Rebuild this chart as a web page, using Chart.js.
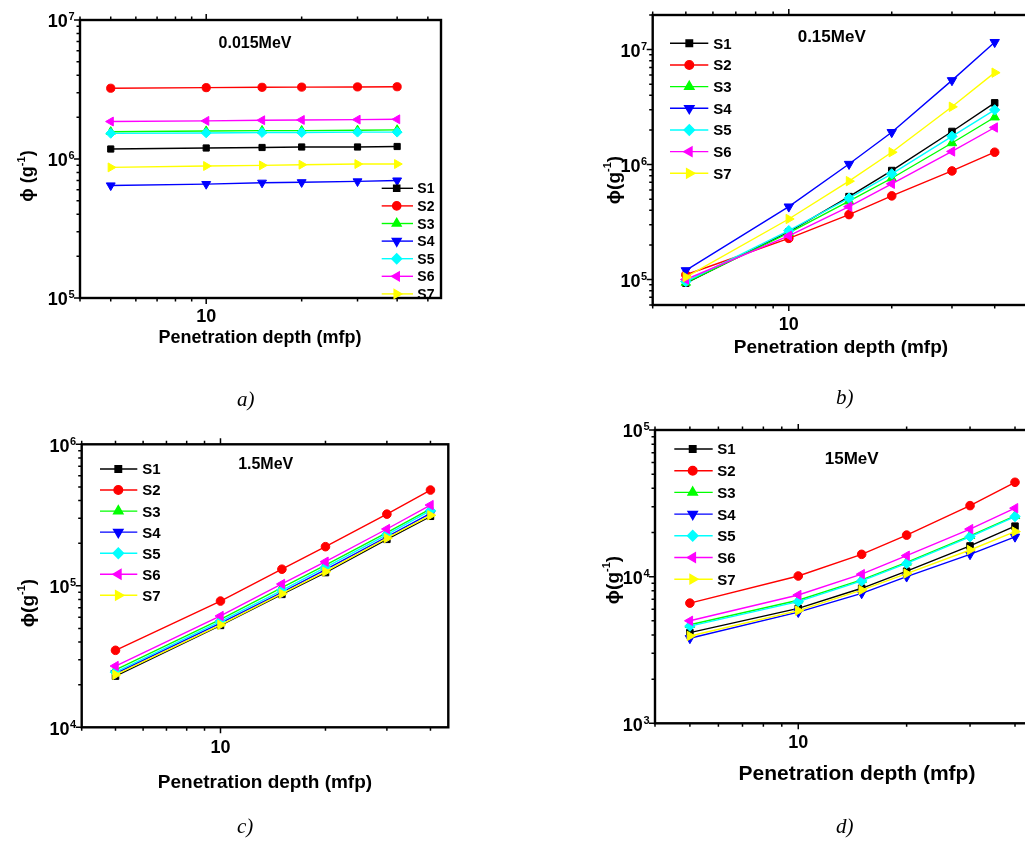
<!DOCTYPE html>
<html>
<head>
<meta charset="utf-8">
<script src="https://cdn.jsdelivr.net/npm/chart.js@4.4.0/dist/chart.umd.min.js"></script>
<style>
  html, body { margin: 0; padding: 0; overflow: hidden; background: #fff; width: 1025px; height: 843px; }
  canvas { position: absolute; }
  .cap { position: absolute; font: italic 21px "Liberation Serif", serif; line-height: 21px; }
</style>
</head>
<body>
<canvas id="pa" width="500" height="400" style="left:0;top:0"></canvas>
<canvas id="pb" width="560" height="400" style="left:510px;top:0"></canvas>
<canvas id="pc" width="500" height="423" style="left:0;top:420px"></canvas>
<canvas id="pd" width="580" height="433" style="left:510px;top:410px"></canvas>
<div class="cap" style="left:237px;top:389px">a)</div>
<div class="cap" style="left:836px;top:387px">b)</div>
<div class="cap" style="left:237px;top:816px">c)</div>
<div class="cap" style="left:836px;top:816px">d)</div>
<script>
// penetration depth (mfp)
var depth = [5, 10, 15, 20, 30, 40];
var names = ['S1', 'S2', 'S3', 'S4', 'S5', 'S6', 'S7'];

// flux, one row per sample S1..S7
var flux0015 = [
  [1.18e6, 1.20e6, 1.21e6, 1.22e6, 1.22e6, 1.23e6],
  [3.23e6, 3.26e6, 3.28e6, 3.29e6, 3.30e6, 3.31e6],
  [1.57e6, 1.59e6, 1.60e6, 1.60e6, 1.61e6, 1.62e6],
  [6.45e5, 6.60e5, 6.75e5, 6.80e5, 6.90e5, 7.00e5],
  [1.53e6, 1.54e6, 1.55e6, 1.55e6, 1.56e6, 1.56e6],
  [1.86e6, 1.88e6, 1.90e6, 1.91e6, 1.92e6, 1.93e6],
  [8.70e5, 8.90e5, 9.00e5, 9.10e5, 9.20e5, 9.20e5]
];
var flux015 = [
  [9.3e4, 2.60e5, 5.26e5, 8.87e5, 1.94e6, 3.44e6],
  [1.1e5, 2.28e5, 3.67e5, 5.34e5, 8.80e5, 1.28e6],
  [9.4e4, 2.55e5, 4.80e5, 7.60e5, 1.54e6, 2.58e6],
  [1.2e5, 4.30e5, 1.01e6, 1.91e6, 5.40e6, 1.16e7],
  [9.6e4, 2.66e5, 5.10e5, 8.30e5, 1.76e6, 2.99e6],
  [1.0e5, 2.40e5, 4.30e5, 6.80e5, 1.30e6, 2.10e6],
  [1.05e5, 3.36e5, 7.17e5, 1.28e6, 3.18e6, 6.30e6]
];
var flux15 = [
  [2.30e4, 5.25e4, 8.70e4, 1.24e5, 2.13e5, 3.10e5],
  [3.50e4, 7.80e4, 1.31e5, 1.89e5, 3.21e5, 4.75e5],
  [2.55e4, 5.80e4, 9.70e4, 1.40e5, 2.38e5, 3.50e5],
  [2.40e4, 5.45e4, 9.00e4, 1.30e5, 2.22e5, 3.25e5],
  [2.45e4, 5.60e4, 9.30e4, 1.35e5, 2.30e5, 3.40e5],
  [2.71e4, 6.12e4, 1.03e5, 1.48e5, 2.52e5, 3.72e5],
  [2.35e4, 5.30e4, 8.80e4, 1.26e5, 2.17e5, 3.15e5]
];
var flux150 = [
  [4.15e3, 6.08e3, 8.33e3, 1.09e4, 1.62e4, 2.21e4],
  [6.60e3, 1.01e4, 1.42e4, 1.92e4, 3.05e4, 4.40e4],
  [4.70e3, 6.90e3, 9.50e3, 1.25e4, 1.90e4, 2.60e4],
  [3.80e3, 5.73e3, 7.70e3, 1.00e4, 1.42e4, 1.87e4],
  [4.60e3, 6.76e3, 9.35e3, 1.23e4, 1.87e4, 2.57e4],
  [5.00e3, 7.50e3, 1.04e4, 1.39e4, 2.11e4, 2.93e4],
  [3.94e3, 5.87e3, 8.10e3, 1.05e4, 1.52e4, 2.03e4]
];

var colors = ['#000000', '#ff0000', '#00ff00', '#0000ff', '#00ffff', '#ff00ff', '#ffff00'];
var marks = ['rect', 'circle', 'triangle', 'triangle', 'rectRot', 'triangle', 'triangle'];
var turns = [0, 0, 0, 180, 0, -90, 90];
var sizes = [4.6, 4.3, 5.4, 5.4, 5.2, 5.4, 5.4];
var FONT = '"Liberation Sans", Arial, sans-serif';

function logTicks(min, max) {
  var out = [];
  for (var e = Math.floor(Math.log10(min)); e <= Math.ceil(Math.log10(max)); e++) {
    for (var m = 1; m < 10; m++) {
      var v = m * Math.pow(10, e);
      if (v >= min * 0.999 && v <= max * 1.001) out.push({ v: v, major: m === 1, e: e });
    }
  }
  return out;
}

function pow10(ctx, e, x, y, size, align) {
  ctx.font = 'bold ' + size + 'px ' + FONT;
  var w1 = ctx.measureText('10').width;
  var es = Math.round(size * 0.62);
  ctx.font = 'bold ' + es + 'px ' + FONT;
  var w2 = ctx.measureText(String(e)).width;
  var left = align === 'right' ? x - w1 - w2 : x - (w1 + w2) / 2;
  var base = y + 0.36 * size + 1;
  ctx.font = 'bold ' + size + 'px ' + FONT;
  ctx.fillText('10', left, base);
  ctx.font = 'bold ' + es + 'px ' + FONT;
  ctx.fillText(String(e), left + w1 + 0.5, base - 0.4 * size);
}

var decor = {
  id: 'decor',
  afterDatasetsDraw: function(chart, args, o) {
    var ctx = chart.ctx, a = chart.chartArea;
    var xs = chart.scales.x, ys = chart.scales.y;
    ctx.save();
    ctx.strokeStyle = '#000';
    ctx.fillStyle = '#000';
    ctx.textAlign = 'left';
    ctx.textBaseline = 'alphabetic';

    // tick marks: bottom and top on x, left on y
    ctx.lineWidth = 1.5;
    ctx.beginPath();
    logTicks(xs.min, xs.max).forEach(function(t) {
      var px = xs.getPixelForValue(t.v), L = t.major ? 6 : 3.5;
      ctx.moveTo(px, a.bottom); ctx.lineTo(px, a.bottom + L);
      ctx.moveTo(px, a.top); ctx.lineTo(px, a.top - L);
    });
    logTicks(ys.min, ys.max).forEach(function(t) {
      var py = ys.getPixelForValue(t.v), L = t.major ? 6 : 3.5;
      ctx.moveTo(a.left, py); ctx.lineTo(a.left - L, py);
    });
    ctx.stroke();

    // frame
    ctx.lineWidth = 2.4;
    ctx.strokeRect(a.left, a.top, a.right - a.left, a.bottom - a.top);

    // y tick labels
    logTicks(ys.min, ys.max).forEach(function(t) {
      if (t.major) pow10(ctx, t.e, a.left - 6, ys.getPixelForValue(t.v), o.tickSize, 'right');
    });
    // x tick label
    ctx.font = 'bold ' + o.tickSize + 'px ' + FONT;
    ctx.textAlign = 'center';
    ctx.fillText('10', xs.getPixelForValue(10), a.bottom + o.xTickDy);

    // x title
    ctx.font = 'bold ' + o.xTitle.size + 'px ' + FONT;
    ctx.fillText('Penetration depth (mfp)', o.xTitle.x, o.xTitle.y);

    // panel title
    ctx.font = 'bold ' + o.title.size + 'px ' + FONT;
    ctx.fillText(o.title.text, o.title.x, o.title.y + 0.36 * o.title.size);

    // y title, rotated
    ctx.save();
    ctx.translate(o.yTitle.x, o.yTitle.y);
    ctx.rotate(-Math.PI / 2);
    ctx.textAlign = 'left';
    var s = o.yTitle.size, ss = Math.round(s * 0.6);
    ctx.font = 'bold ' + s + 'px ' + FONT;
    var w1 = ctx.measureText(o.yTitle.text).width, w3 = ctx.measureText(')').width;
    ctx.font = 'bold ' + ss + 'px ' + FONT;
    var w2 = ctx.measureText('-1').width;
    var x0 = -(w1 + w2 + w3) / 2, b = 0.36 * s;
    ctx.font = 'bold ' + s + 'px ' + FONT;
    ctx.fillText(o.yTitle.text, x0, b);
    ctx.fillText(')', x0 + w1 + w2, b);
    ctx.font = 'bold ' + ss + 'px ' + FONT;
    ctx.fillText('-1', x0 + w1, b - 0.45 * s);
    ctx.restore();

    // legend
    var lg = o.leg;
    chart.data.datasets.forEach(function(ds, i) {
      var y = lg.y0 + i * lg.dy;
      ctx.strokeStyle = ds.borderColor;
      ctx.fillStyle = ds.borderColor;
      ctx.lineWidth = 1.4;
      ctx.beginPath(); ctx.moveTo(lg.x0, y); ctx.lineTo(lg.x1, y); ctx.stroke();
      Chart.helpers.drawPoint(ctx, { pointStyle: ds.pointStyle, rotation: ds.pointRotation, radius: ds.pointRadius, borderWidth: 1 }, lg.mx, y);
      ctx.fillStyle = '#000';
      ctx.textAlign = 'left';
      ctx.font = 'bold ' + lg.size + 'px ' + FONT;
      ctx.fillText(ds.label, lg.tx, y + 0.36 * lg.size);
    });
    ctx.restore();
  }
};

function panel(id, rows, P) {
  var datasets = rows.map(function(r, i) {
    return {
      label: names[i],
      data: r.map(function(v, j) { return { x: depth[j], y: v }; }),
      borderColor: colors[i],
      backgroundColor: colors[i],
      pointStyle: marks[i],
      pointRotation: turns[i],
      pointRadius: sizes[i] * P.k,
      pointBorderWidth: 1,
      borderWidth: 1.4,
      fill: false,
      tension: 0,
      order: 7 - i
    };
  });
  return new Chart(document.getElementById(id), {
    type: 'line',
    data: { datasets: datasets },
    options: {
      responsive: false,
      animation: false,
      events: [],
      layout: { padding: P.pad },
      scales: {
        x: { type: 'logarithmic', min: P.x[0], max: P.x[1], display: false },
        y: { type: 'logarithmic', min: P.y[0], max: P.y[1], display: false }
      },
      plugins: { legend: { display: false }, tooltip: { enabled: false }, decor: P }
    },
    plugins: [decor]
  });
}

panel('pa', flux0015, {
  pad: { left: 80, top: 20, right: 59, bottom: 102 },
  x: [4, 55], y: [1e5, 1e7], k: 0.95, tickSize: 18, xTickDy: 24,
  title: { text: '0.015MeV', x: 255, y: 42, size: 16 },
  xTitle: { x: 260, y: 343, size: 18 },
  yTitle: { text: '\u03d5 (g', x: 27, y: 176, size: 18 },
  leg: { x0: 381.7, x1: 413, mx: 396.7, tx: 417.3, y0: 188.3, dy: 17.6, size: 14 }
});
panel('pb', flux015, {
  pad: { left: 142.7, top: 15, right: 28, bottom: 95 },
  x: [4, 55], y: [6e4, 2e7], k: 1, tickSize: 18, xTickDy: 25,
  title: { text: '0.15MeV', x: 321.7, y: 36, size: 17 },
  xTitle: { x: 331, y: 353, size: 19 },
  yTitle: { text: '\u03d5(g', x: 103, y: 180, size: 19 },
  leg: { x0: 160, x1: 198.3, mx: 179.3, tx: 203.3, y0: 43.3, dy: 21.67, size: 15 }
});
panel('pc', flux15, {
  pad: { left: 81.7, top: 24.3, right: 51.7, bottom: 115.7 },
  x: [4, 45], y: [1e4, 1e6], k: 1, tickSize: 18, xTickDy: 26,
  title: { text: '1.5MeV', x: 265.7, y: 43.3, size: 16 },
  xTitle: { x: 265, y: 368, size: 19 },
  yTitle: { text: '\u03d5(g', x: 27, y: 183, size: 19 },
  leg: { x0: 100, x1: 137.3, mx: 118.3, tx: 142.3, y0: 49, dy: 21.05, size: 15 }
});
panel('pd', flux150, {
  pad: { left: 145, top: 20, right: 25.2, bottom: 119.7 },
  x: [4, 55], y: [1e3, 1e5], k: 1, tickSize: 18, xTickDy: 25,
  title: { text: '15MeV', x: 341.7, y: 47.7, size: 17 },
  xTitle: { x: 347, y: 370, size: 21 },
  yTitle: { text: '\u03d5(g', x: 101.7, y: 170, size: 19 },
  leg: { x0: 164.3, x1: 202.7, mx: 182.7, tx: 207.3, y0: 39, dy: 21.7, size: 15 }
});
</script>
</body>
</html>
